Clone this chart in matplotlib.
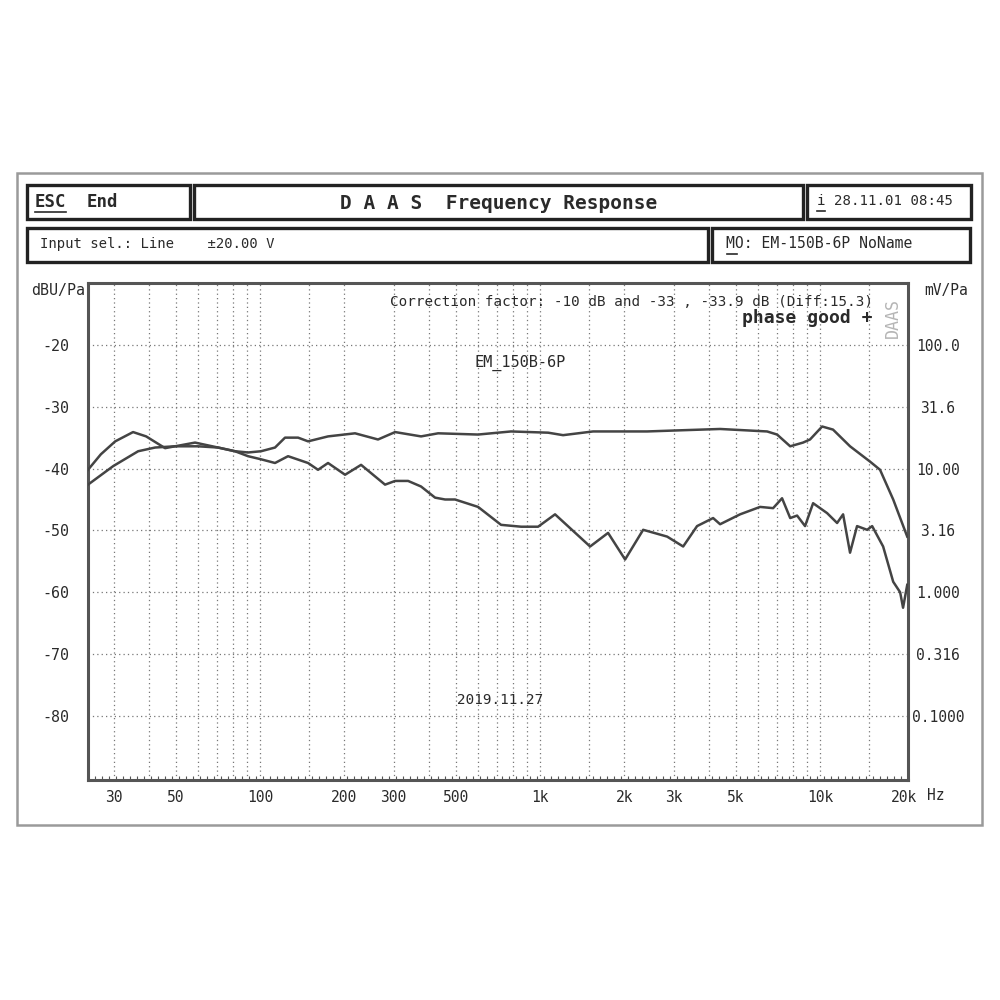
import numpy as np
import matplotlib.pyplot as plt
from matplotlib.patches import Rectangle
from matplotlib.lines import Line2D
from matplotlib.ticker import FixedLocator, NullFormatter

# upper, flatter curve (Hz, dBU/Pa)
freq_a = [24.3, 29.9, 36.7, 42.2, 49.7, 60.1, 70.8, 81.4, 90.6, 100.8, 113.1, 122.8,
          136.7, 148.4, 174.9, 218.4, 263.8, 303.6, 375.8, 432.5, 600.6, 787.7, 1069,
          1208, 1546, 2412, 3243, 4394, 6466, 7020, 7820, 8690, 9205, 10170, 11120,
          12790, 15100, 16370, 18240, 20470]
db_a = [-42.6, -39.6, -37.2, -36.6, -36.4, -36.4, -36.6, -37.2, -37.4, -37.2, -36.6,
        -35.0, -35.0, -35.6, -34.8, -34.3, -35.3, -34.1, -34.8, -34.3, -34.5, -34.0,
        -34.2, -34.6, -34.0, -34.0, -33.8, -33.6, -34.0, -34.5, -36.4, -35.8, -35.3,
        -33.2, -33.7, -36.4, -38.9, -40.2, -45.0, -51.0]

# lower curve
freq_b = [24.3, 27.0, 30.4, 35.2, 39.2, 45.8, 58.6, 70.8, 81.4, 90.6, 100.8, 113.1,
          125.9, 148.4, 161.1, 174.9, 201.2, 229.5, 279.5, 303.6, 337.8, 375.8, 421.7,
          457.9, 497, 600.6, 725.6, 855.7, 984, 1131, 1509, 1749, 2012, 2334, 2843,
          3243, 3636, 4149, 4394, 5179, 6105, 6795, 7313, 7820, 8276, 8836, 9440,
          10590, 11500, 12080, 12790, 13550, 14720, 15340, 16790, 18240, 19310,
          19780, 20470]
db_b = [-40.2, -37.7, -35.6, -34.1, -34.8, -36.7, -35.8, -36.6, -37.2, -38.0, -38.5,
        -39.1, -38.0, -39.1, -40.2, -39.1, -41.0, -39.4, -42.6, -42.0, -42.0, -42.9,
        -44.7, -45.0, -45.0, -46.2, -49.1, -49.4, -49.4, -47.4, -52.6, -50.4, -54.7,
        -49.9, -51.0, -52.6, -49.3, -48.0, -49.0, -47.4, -46.2, -46.4, -44.8, -48.0,
        -47.6, -49.3, -45.6, -47.2, -48.8, -47.4, -53.6, -49.3, -49.9, -49.3, -52.6,
        -58.3, -60.0, -62.5, -58.8]

grid_freqs = [30, 40, 50, 60, 70, 80, 90, 100, 150, 200, 300, 400, 500, 600, 700,
              800, 900, 1000, 1500, 2000, 3000, 4000, 5000, 6000, 7000, 8000, 9000,
              10000, 15000]
db_ticks = [-20, -30, -40, -50, -60, -70, -80]
mv_labels = ['100.0', '31.6', '10.00', '3.16', '1.000', '0.316', '0.1000']
x_ticks = [30, 50, 100, 200, 300, 500, 1000, 2000, 3000, 5000, 10000, 20000]
x_labels = ['30', '50', '100', '200', '300', '500', '1k', '2k', '3k', '5k', '10k', '20k']

plt.rcParams['font.family'] = 'DejaVu Sans Mono'
plt.rcParams['axes.unicode_minus'] = False
fig = plt.figure(figsize=(10, 10), dpi=100)
ink = '#2a2a2a'


def box(x0, y0, x1, y1, lw=2.4, color='#222222'):
    fig.add_artist(Rectangle((x0 / 1000, 1 - y1 / 1000), (x1 - x0) / 1000, (y1 - y0) / 1000,
                             transform=fig.transFigure, fill=False, lw=lw, ec=color))


def txt(x, y, s, color=ink, **kw):
    fig.text(x / 1000, 1 - y / 1000, s, va='center', color=color, **kw)


def uline(x0, x1, y):
    fig.add_artist(Line2D([x0 / 1000, x1 / 1000], [1 - y / 1000, 1 - y / 1000],
                          transform=fig.transFigure, lw=1.2, color=ink))


# outer frame and header boxes
box(17, 173, 982, 825, lw=1.8, color='#9a9a9a')
box(27, 185, 190, 219)
box(194, 185, 803, 219)
box(807, 185, 971, 219)
box(27, 228, 708, 262)
box(712, 228, 970, 262)

txt(35, 202, 'ESC', fontsize=12.5, fontweight='bold')
uline(35, 66, 212)
txt(87, 202, 'End', fontsize=12.5, fontweight='bold')
txt(499, 203, 'D A A S  Frequency Response', fontsize=14, fontweight='bold', ha='center')
txt(817, 201, 'i 28.11.01 08:45', fontsize=10.2)
uline(817, 825, 211)
txt(40, 244, 'Input sel.: Line    \u00b120.00 V', fontsize=10)
txt(726, 244, 'MO: EM-150B-6P NoName', fontsize=10.6)
uline(727, 737, 254)

txt(31, 290, 'dBU/Pa', fontsize=10.8)
txt(924, 290, 'mV/Pa', fontsize=10.5)
txt(927, 795, 'Hz', fontsize=10.5)

ax = fig.add_axes([0.088, 0.220, 0.820, 0.497])
ax.set_xscale('log')
ax.set_xlim(24.3, 20600)
ax.set_ylim(-90.35, -10)

for f in grid_freqs:
    ax.axvline(f, color='#777777', lw=0.9, ls=(0, (1, 2.5)), zorder=1)
for d in db_ticks:
    ax.axhline(d, color='#777777', lw=0.9, ls=(0, (1, 2.5)), zorder=1)

ax.plot(freq_a, db_a, color='#444444', lw=1.8, zorder=3)
ax.plot(freq_b, db_b, color='#444444', lw=1.8, zorder=3)

ax.set_xticks(x_ticks, x_labels)
ax.xaxis.set_minor_locator(FixedLocator(np.geomspace(24.3, 20600, 118)))
ax.xaxis.set_minor_formatter(NullFormatter())
ax.tick_params(axis='x', which='major', length=0, pad=7, labelsize=10.5, labelcolor=ink)
ax.tick_params(axis='x', which='minor', direction='in', length=3, width=0.8, color='#555555')
ax.set_yticks(db_ticks)
ax.tick_params(axis='y', length=0, pad=23, labelsize=10.8, labelcolor=ink)
for lbl in ax.get_yticklabels():
    lbl.set_horizontalalignment('center')
for s in ax.spines.values():
    s.set_linewidth(2.2)
    s.set_color('#555555')

ax2 = ax.twinx()
ax2.set_ylim(-90.35, -10)
ax2.set_yticks(db_ticks, mv_labels)
ax2.tick_params(axis='y', length=0, pad=21.6, labelsize=10.5, labelcolor=ink)
for lbl in ax2.get_yticklabels():
    lbl.set_horizontalalignment('center')
for s in ax2.spines.values():
    s.set_visible(False)

# annotations inside the plot
txt(873, 302, 'Correction factor: -10 dB and -33 , -33.9 dB (Diff:15.3)', fontsize=10.3, ha='right')
txt(873, 318, 'phase good +', fontsize=13, fontweight='bold', ha='right')
txt(893, 318, 'DAAS', fontsize=12, rotation=90, ha='center', color='#b5b5b5')
txt(520, 363, 'EM_150B-6P', fontsize=11, ha='center')
txt(500, 700, '2019.11.27', fontsize=10.3, ha='center')

fig.savefig('out.png', dpi=100)
